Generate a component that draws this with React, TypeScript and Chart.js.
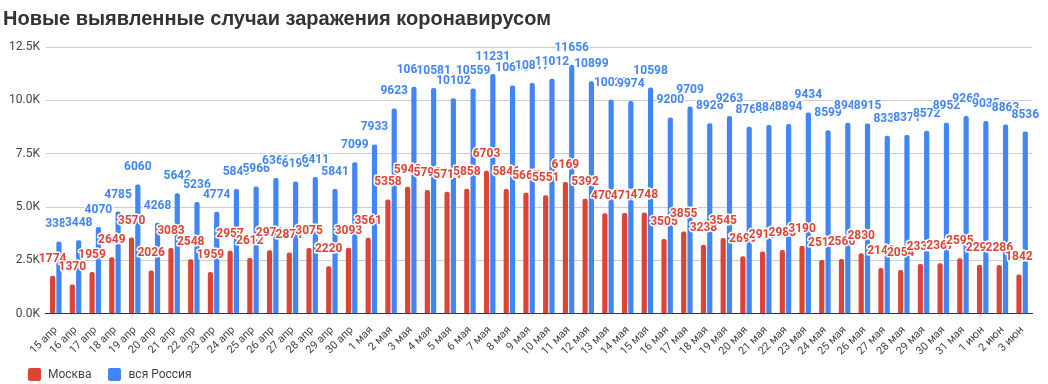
import React, { useEffect, useRef } from 'react';
import { Chart, registerables } from 'chart.js';

Chart.register(...registerables);

const categories = [
  '15 апр', '16 апр', '17 апр', '18 апр', '19 апр', '20 апр', '21 апр', '22 апр', '23 апр', '24 апр',
  '25 апр', '26 апр', '27 апр', '28 апр', '29 апр', '30 апр',
  '1 мая', '2 мая', '3 мая', '4 мая', '5 мая', '6 мая', '7 мая', '8 мая', '9 мая', '10 мая',
  '11 мая', '12 мая', '13 мая', '14 мая', '15 мая', '16 мая', '17 мая', '18 мая', '19 мая', '20 мая',
  '21 мая', '22 мая', '23 мая', '24 мая', '25 мая', '26 мая', '27 мая', '28 мая', '29 мая', '30 мая',
  '31 мая', '1 июн', '2 июн', '3 июн',
];

const moscow = [
  1774, 1370, 1959, 2649, 3570, 2026, 3083, 2548, 1959, 2957,
  2612, 2971, 2871, 3075, 2220, 3093,
  3561, 5358, 5948, 5795, 5714, 5858, 6703, 5846, 5667, 5551,
  6169, 5392, 4703, 4717, 4748, 3505, 3855, 3238, 3545, 2699,
  2913, 2988, 3190, 2516, 2560, 2830, 2140, 2054, 2332, 2367,
  2595, 2297, 2286, 1842,
];

const russia = [
  3388, 3448, 4070, 4785, 6060, 4268, 5642, 5236, 4774, 5849,
  5966, 6361, 6198, 6411, 5841, 7099,
  7933, 9623, 10633, 10581, 10102, 10559, 11231, 10699, 10817, 11012,
  11656, 10899, 10028, 9974, 10598, 9200, 9709, 8926, 9263, 8764,
  8849, 8894, 9434, 8599, 8946, 8915, 8338, 8371, 8572, 8952,
  9268, 9035, 8863, 8536,
];

const seriesNames = ['Москва', 'вся Россия'];
const seriesColors = ['#DB4437', '#4285F4'];
const titleText = 'Новые выявленные случаи заражения коронавирусом';
const yMax = 12500;
const yStep = 2500;

const valueLabelPlugin = {
  id: 'valueLabels',
  afterDatasetsDraw(chart: any) {
    const ctx = chart.ctx;
    ctx.save();
    ctx.font = 'bold 12px Roboto';
    ctx.textAlign = 'center';
    ctx.textBaseline = 'alphabetic';
    ctx.lineJoin = 'round';
    chart.data.datasets.forEach((ds: any, di: number) => {
      const meta = chart.getDatasetMeta(di);
      meta.data.forEach((el: any, i: number) => {
        const text = String(ds.data[i]);
        const x = el.x;
        const y = el.y - 14;
        ctx.lineWidth = 3;
        ctx.strokeStyle = '#ffffff';
        ctx.strokeText(text, x, y);
        ctx.fillStyle = ds.backgroundColor;
        ctx.fillText(text, x, y);
      });
    });
    ctx.restore();
  },
};

export default function App() {
  const canvasRef = useRef<HTMLCanvasElement | null>(null);

  useEffect(() => {
    document.body.style.margin = '0';
    const canvas = canvasRef.current;
    if (!canvas) return;
    const chart = new Chart(canvas, {
      type: 'bar',
      data: {
        labels: categories,
        datasets: [
          { label: seriesNames[0], data: moscow, backgroundColor: seriesColors[0], borderRadius: 2, borderSkipped: 'bottom' },
          { label: seriesNames[1], data: russia, backgroundColor: seriesColors[1], borderRadius: 2, borderSkipped: 'bottom' },
        ],
      },
      options: {
        animation: false,
        responsive: false,
        maintainAspectRatio: false,
        datasets: { bar: { categoryPercentage: 0.64, barPercentage: 0.82 } },
        layout: { padding: { left: 3, right: 16, top: 0, bottom: 24 } },
        plugins: {
          legend: { display: false },
          tooltip: { enabled: false },
          title: {
            display: true,
            text: titleText,
            align: 'start',
            color: '#333333',
            font: { family: 'Liberation Sans', size: 20, weight: 'bold' },
            padding: { top: 7, bottom: 16 },
          },
        },
        scales: {
          x: {
            grid: { display: false },
            border: { color: '#333333', width: 1 },
            ticks: {
              autoSkip: false,
              maxRotation: 45,
              minRotation: 45,
              color: '#444444',
              font: { family: 'Roboto', size: 11 },
              padding: 2,
            },
          },
          y: {
            min: 0,
            max: yMax,
            border: { display: false },
            grid: {
              color: (c: any) => (c.tick && c.tick.value === 0 ? '#333333' : '#cccccc'),
              drawTicks: false,
            },
            ticks: {
              stepSize: yStep,
              color: '#444444',
              font: { family: 'Roboto', size: 12 },
              padding: 6,
              callback: (v: any) => (Number(v) / 1000).toFixed(1) + 'K',
            },
          },
        },
      },
      plugins: [valueLabelPlugin],
    });
    return () => chart.destroy();
  }, []);

  return (
    <div style={{ position: 'relative', width: 1048, height: 384, background: '#fff' }}>
      <canvas ref={canvasRef} width={1048} height={384} style={{ display: 'block' }} />
      <div
        style={{
          position: 'absolute',
          left: 28,
          top: 367,
          display: 'flex',
          alignItems: 'center',
          fontFamily: 'Roboto',
          fontSize: 12,
          color: '#444444',
        }}
      >
        {seriesNames.map((name, i) => (
          <div key={name} style={{ display: 'flex', alignItems: 'center', marginRight: 17 }}>
            <span
              style={{
                display: 'inline-block',
                width: 13,
                height: 13,
                borderRadius: 2,
                background: seriesColors[i],
                marginRight: 7,
              }}
            />
            <span>{name}</span>
          </div>
        ))}
      </div>
    </div>
  );
}
